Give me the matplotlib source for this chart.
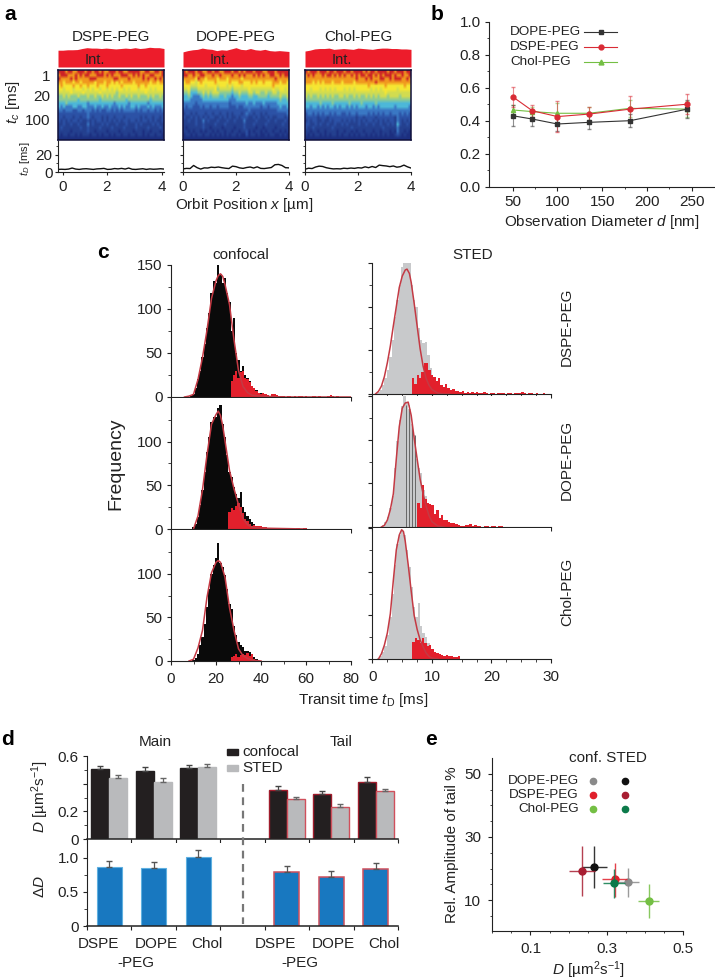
import numpy as np
import matplotlib
matplotlib.use('Agg')
import matplotlib.pyplot as plt
from matplotlib.colors import ListedColormap
from matplotlib.lines import Line2D
from matplotlib.patches import Rectangle
from matplotlib.ticker import FixedLocator

plt.rcParams['font.family'] = ['Liberation Sans', 'DejaVu Sans']
plt.rcParams['mathtext.fontset'] = 'custom'
plt.rcParams['mathtext.rm'] = 'Liberation Sans'
plt.rcParams['mathtext.it'] = 'Liberation Sans:italic'
plt.rcParams['font.size'] = 11
plt.rcParams['text.color'] = '#222222'
plt.rcParams['axes.edgecolor'] = '#222222'
plt.rcParams['xtick.color'] = '#222222'
plt.rcParams['ytick.color'] = '#222222'

W, H = 715, 980

# panel a, colour level per row (top to bottom) and orbit position
heat_colors = ['#1c2f80', '#24408f', '#2c52a6', '#3a78c4', '#4db8d8',
               '#8ccb94', '#d2dc50', '#f6e632', '#f0981e', '#cc2226']
heat_dspe = [
    "99989988999899899898899989988999998899889989",
    "89998889898998889998989888999889898988998889",
    "98888989888889998888888998888988888989889898",
    "88788878878888878887887878788887888888788788",
    "78777787787787778777877777877777787787777777",
    "77677767776767677677676767767677767777676777",
    "66666766667666666766666656666666666676666666",
    "55656555655565565565656556556565565556565565",
    "55555555455555555455555555554555555555455555",
    "44454444444434444444444344444344444443444444",
    "43433344334433343343343334343344343334343334",
    "33233322332333232322332323233333232332332323",
    "22222222222232222222222222222222222222222222",
    "22122212212232122212122122212222221212212212",
    "21212122121121212212121212122122121221212112",
    "11211211211131211121211121112111212111121211",
    "12111111121121111211112111121111211112111121",
    "11111011111121101111011110111110111011011101",
    "10110110101110110101101011011011011010110110",
    "00000000000000000000000000000000000000000000",
]
heat_dope = [
    "98999899889989988999899898999899988999899999",
    "99889889988898898888988989888989898899889899",
    "88888798878888788878888878888888888888988888",
    "78877678777778777778777887778787787778887887",
    "77766677767777677767677767777777777778777777",
    "66755566666667566666566666676666666667667767",
    "55644455656566655555455655566566556556656666",
    "44543334545455544544344544455445555455556556",
    "44433333444444444443334444444444444444445445",
    "33333233333333333332333333433433343333344444",
    "32332223233233233332223223333333233233334334",
    "22222222222222222222222222232222222222233333",
    "12212122212212212212122212322122121222222223",
    "21121212121221121212112122211212112121122212",
    "11211211312111211121121113111121111211211121",
    "11111211211112111211111112111211112111111211",
    "10111111211011110111101112111101101111011111",
    "11010110101101011011011011201011010110110101",
    "01101011011010101010110100201101001011001010",
    "00000000000000000000000000000000000000000000",
]
heat_chol = [
    "98999899989989998998999989899899998998999899",
    "89898889899898989889898998998989899989889889",
    "88888888888888888888898889898889988989998898",
    "88878787888788878888788888888988888888888888",
    "77777777777777777777777777877777787777777877",
    "77677767676767776767677777767676777777677777",
    "66666666666666666666666666666666676666666666",
    "65655656565655665655656556565656665666656666",
    "55555555555555555555555555555555555555555555",
    "44444454444544444454444544444544444444444444",
    "44344343434434344343434443443434444443444443",
    "33333333333333333333333333333333333333333333",
    "23323232332323322323323333232323233233323232",
    "22222122212222222222212212222122222221322222",
    "12122112112122212121212121221212121221321212",
    "22112121121121121211112112112112112121421121",
    "21121111111211111112111111111111211111311111",
    "11011011011110110110101101110110111010311010",
    "10101101010110101101010110101010101001210100",
    "00000000000000000000000000000000000000000000",
]
heat_names = ['DSPE-PEG', 'DOPE-PEG', 'Chol-PEG']
heat_rows = [heat_dspe, heat_dope, heat_chol]
heat_ticks = [[0.18, 1.84, 3.93], [0, 2, 4], [0, 2, 4]]
int_dspe = [0.80, 0.80, 0.82, 0.82, 0.83, 0.88, 0.92, 0.90, 0.90, 0.88, 0.90, 0.88, 0.86, 0.88, 0.90, 0.88, 0.92, 0.88, 0.90, 0.94, 0.92, 0.92, 0.88]
int_dope = [0.72, 0.78, 0.82, 0.84, 0.90, 0.86, 0.84, 0.78, 0.82, 0.80, 0.86, 0.92, 0.84, 0.82, 0.88, 0.82, 0.80, 0.84, 0.78, 0.76, 0.78, 0.76, 0.74]
int_chol = [0.76, 0.80, 0.86, 0.88, 0.88, 0.90, 0.84, 0.86, 0.88, 0.86, 0.84, 0.90, 0.88, 0.86, 0.84, 0.88, 0.90, 0.90, 0.88, 0.88, 0.86, 0.86, 0.84]
td_dspe = [3.0, 3.2, 3.0, 3.4, 4.6, 3.4, 3.0, 3.6, 3.8, 3.4, 3.0, 3.6, 3.8, 4.2, 3.0, 3.2, 4.0, 3.6, 4.2, 3.4, 4.6, 3.2, 3.0, 3.4, 3.8, 3.0, 3.6, 3.2, 3.4, 3.8, 3.4]
td_dope = [3.6, 4.2, 4.0, 7.6, 5.0, 3.4, 4.8, 4.6, 5.6, 5.2, 5.8, 5.0, 4.4, 4.0, 6.8, 6.2, 4.8, 4.2, 5.2, 5.8, 4.6, 6.0, 4.2, 4.0, 4.6, 5.2, 8.4, 8.8, 7.6, 5.0, 4.8]
td_chol = [3.2, 4.4, 4.0, 5.8, 6.8, 6.4, 5.0, 4.2, 3.6, 3.8, 3.6, 4.4, 4.0, 4.6, 4.2, 5.0, 4.6, 6.0, 5.0, 6.4, 5.2, 8.0, 7.4, 7.0, 6.2, 7.0, 5.6, 6.2, 8.0, 6.0, 4.6]

# panel b
diam = [50, 72, 100, 135, 181, 245]
b_dope = [0.43, 0.41, 0.38, 0.39, 0.40, 0.47]
b_dope_err = [0.063, 0.04, 0.045, 0.04, 0.04, 0.055]
b_dspe = [0.545, 0.46, 0.425, 0.44, 0.47, 0.50]
b_dspe_err = [0.06, 0.037, 0.095, 0.04, 0.08, 0.062]
b_chol = [0.465, 0.455, 0.445, 0.445, 0.475, 0.47]
b_chol_err = [0.03, 0.03, 0.065, 0.038, 0.05, 0.05]

# panel c, bar heights from a first bin centre with fixed bin width
conf_black_start = 9
conf_dspe_black = [1, 3, 10, 20, 30, 45, 60, 78, 95, 118, 132, 130, 150, 140, 130, 135, 118, 108, 75, 90, 50, 42, 30, 35, 25, 22, 18, 12, 10, 8, 5, 4, 2]
conf_dope_black = [0, 2, 6, 14, 28, 45, 65, 88, 105, 122, 128, 128, 138, 142, 120, 105, 85, 65, 60, 48, 40, 35, 42, 25, 20, 15, 12, 8, 6, 4, 2]
conf_chol_black = [0, 1, 3, 8, 18, 28, 42, 62, 82, 100, 110, 118, 135, 112, 108, 98, 82, 65, 60, 40, 30, 22, 18, 16, 12, 12, 10, 8, 5, 2]
conf_dspe_red_start = 27
conf_dspe_red = [18, 25, 30, 22, 28, 30, 22, 20, 17, 12, 10, 7, 5, 3, 4, 3, 2, 1, 3, 3, 2, 1, 1, 1, 0, 1, 1, 0, 1, 0, 1, 1, 0, 1, 0, 0, 1, 1, 0, 1, 0, 0, 0, 1, 2, 1, 0, 1]
conf_dope_red_start = 26
conf_dope_red = [20, 24, 22, 26, 30, 25, 18, 12, 9, 6, 4, 5, 3, 3, 4, 2, 2, 1, 1, 1, 0, 1, 1, 0, 0, 1, 1, 1, 0, 0, 1, 1, 0, 1, 1]
conf_chol_red_start = 27
conf_chol_red = [5, 6, 8, 5, 7, 8, 7, 9, 6, 8, 2]
conf_dspe_fit_x = [6, 8, 10, 12, 14, 16, 18, 20, 21, 22, 23, 24, 26, 28, 30, 32, 34, 36, 40, 50, 80]
conf_dspe_fit = [0, 1, 3, 20, 45, 76, 112, 132, 138, 140, 137, 128, 105, 65, 30, 12, 5, 2, 1, 0, 0]
conf_dope_fit_x = [10, 12, 14, 16, 18, 20, 21, 22, 23, 24, 26, 28, 30, 32, 34, 36, 40, 60]
conf_dope_fit = [0, 15, 45, 85, 120, 131, 135, 130, 118, 101, 67, 46, 28, 12, 5, 2, 1, 0]
conf_chol_fit_x = [8, 10, 12, 14, 16, 18, 20, 21, 22, 24, 26, 28, 30, 32, 34, 36, 40]
conf_chol_fit = [0, 2, 15, 35, 73, 101, 113, 115, 113, 96, 61, 35, 14, 6, 3, 1, 0]

sted_step = 0.4
sted_grey_start = 1.0
sted_dspe_grey = [2, 5, 10, 18, 28, 42, 62, 88, 108, 125, 145, 150, 152, 150, 125, 108, 100, 75, 62, 58, 60, 45, 30, 20, 15, 8, 5]
sted_dope_grey = [0, 0, 2, 6, 12, 22, 36, 68, 98, 122, 138, 150, 142, 135, 118, 105, 78, 68, 62, 42, 35, 25, 18, 10, 6]
sted_chol_grey = [1, 3, 8, 15, 28, 48, 75, 108, 132, 142, 148, 142, 125, 105, 82, 60, 48, 64, 38, 30, 25, 18, 12, 6]
sted_dspe_red_start = 6.8
sted_dspe_red = [18, 12, 22, 18, 25, 35, 36, 28, 22, 20, 15, 18, 10, 8, 12, 7, 5, 6, 4, 3, 2, 3, 1, 2, 1, 2, 1, 2, 1, 1, 2, 1, 0, 1, 1, 0, 1, 1, 1, 0, 1, 1, 0, 1, 1, 1, 2, 1, 0, 1, 1, 0, 1, 0, 0, 1]
sted_dope_red_start = 7.7
sted_dope_red = [28, 22, 48, 32, 28, 26, 25, 15, 20, 10, 14, 8, 8, 6, 5, 5, 4, 2, 1, 1, 2, 2, 3, 1, 2, 1, 1, 0, 1, 1, 0, 1, 1, 0, 1, 1]
sted_chol_red_start = 6.9
sted_chol_red = [20, 24, 22, 18, 24, 18, 15, 16, 12, 8, 7, 6, 5, 4, 5, 3, 4, 2, 2, 3]
sted_dspe_fit_x = [0.5, 1, 1.5, 2, 2.5, 3, 3.5, 4, 4.5, 5, 5.5, 5.8, 6.2, 6.5, 7, 7.5, 8, 8.5, 9, 9.5, 10, 11, 12, 13]
sted_dspe_fit = [0, 3, 9, 20, 36, 55, 78, 100, 122, 135, 142, 143, 138, 128, 104, 78, 52, 32, 18, 10, 5, 1, 0, 0]
sted_dope_fit_x = [1.5, 2, 2.5, 3, 3.5, 4, 4.5, 5, 5.5, 6, 6.5, 7, 7.5, 8, 8.5, 9, 9.5, 10, 11, 12]
sted_dope_fit = [0, 2, 8, 20, 38, 78, 115, 136, 142, 143, 128, 102, 78, 55, 38, 24, 13, 6, 1, 0]
sted_chol_fit_x = [1, 1.5, 2, 2.5, 3, 3.5, 4, 4.5, 4.9, 5.2, 5.5, 6, 6.5, 7, 7.5, 8, 8.5, 9, 9.5, 10, 11]
sted_chol_fit = [0, 6, 16, 30, 52, 90, 125, 142, 148, 146, 135, 108, 78, 50, 34, 22, 14, 7, 3, 1, 0]
sted_dope_dark_x = [5.7, 6.2, 6.7, 7.2]
sted_dope_dark_y = [140, 140, 118, 105]
row_names = ['DSPE-PEG', 'DOPE-PEG', 'Chol-PEG']

# panel d
d_groups_main = [0.5, 1.5, 2.5]
d_groups_tail = [4.5, 5.5, 6.5]
main_conf = [0.508, 0.494, 0.513]
main_conf_err = [0.022, 0.024, 0.024]
main_sted = [0.441, 0.414, 0.518]
main_sted_err = [0.019, 0.025, 0.024]
tail_conf = [0.357, 0.323, 0.41]
tail_conf_err = [0.024, 0.024, 0.036]
tail_sted = [0.287, 0.234, 0.347]
tail_sted_err = [0.014, 0.016, 0.012]
main_delta = [0.869, 0.854, 1.015]
main_delta_err = [0.078, 0.088, 0.095]
tail_delta = [0.796, 0.714, 0.83]
tail_delta_err = [0.087, 0.097, 0.097]

# panel e, D and amplitude with error limits
e_names = ['DOPE-PEG', 'DSPE-PEG', 'Chol-PEG']
e_conf_colors = ['#8a8a8a', '#e0202c', '#74bf44']
e_sted_colors = ['#111111', '#a81e32', '#0c7a4a']
e_conf_d = [0.355, 0.321, 0.41]
e_conf_dlo = [0.322, 0.288, 0.383]
e_conf_dhi = [0.385, 0.354, 0.436]
e_conf_a = [15.7, 16.6, 9.6]
e_conf_alo = [11.0, 11.0, 4.2]
e_conf_ahi = [20.3, 21.9, 15.1]
e_sted_d = [0.266, 0.234, 0.32]
e_sted_dlo = [0.234, 0.2, 0.29]
e_sted_dhi = [0.30, 0.27, 0.349]
e_sted_a = [20.4, 19.2, 15.4]
e_sted_alo = [13.7, 11.3, 10.6]
e_sted_ahi = [27.0, 27.2, 20.0]

fig = plt.figure(figsize=(W / 100, H / 100), dpi=100)


def px_axes(left, top, right, bottom):
    return fig.add_axes([left / W, 1 - bottom / H, (right - left) / W, (bottom - top) / H])


def px_text(x, y, s, **kw):
    kw.setdefault('ha', 'center')
    kw.setdefault('va', 'center')
    return fig.text(x / W, 1 - y / H, s, **kw)


def clean(ax):
    ax.spines['top'].set_visible(False)
    ax.spines['right'].set_visible(False)


for s, x, y in [('a', 10, 14), ('b', 437, 14), ('c', 103, 252), ('d', 7, 739), ('e', 431, 739)]:
    px_text(x, y, s, fontsize=15, fontweight='bold', color='black')

# a
heat_cmap = ListedColormap(heat_colors)
heat_left = [58, 183, 305]
int_data = [int_dspe, int_dope, int_chol]
td_data = [td_dspe, td_dope, td_chol]
for i, left in enumerate(heat_left):
    right = left + 106
    px_text(left + 53, 37, heat_names[i], fontsize=11)

    ax = px_axes(left, 46, right, 67)
    ax.fill_between(np.linspace(0, 4, len(int_data[i])), 0, int_data[i], color='#ed1c2b', lw=0)
    ax.set_xlim(0, 4)
    ax.set_ylim(0, 1)
    ax.axis('off')
    ax.text(0.35, 0.33, 'Int.', transform=ax.transAxes, ha='center', va='center', fontsize=10.5)

    ax = px_axes(left, 70, right, 140)
    grid = np.array([[int(c) for c in row[:44].ljust(44, row[-1])] for row in heat_rows[i]])
    ax.imshow(grid, cmap=heat_cmap, vmin=-0.5, vmax=9.5, aspect='auto', interpolation='bilinear')
    ax.set_xticks([])
    ax.set_yticks([])
    for sp in ax.spines.values():
        sp.set_linewidth(1.1)
        sp.set_color('#10103a')

    ax = px_axes(left, 141, right, 172)
    ax.plot(np.linspace(0, 4, len(td_data[i])), td_data[i], color='#111111', lw=1)
    ax.set_xlim(0, 4)
    ax.set_ylim(0, 36)
    clean(ax)
    ax.set_xticks(heat_ticks[i])
    ax.set_xticklabels(['0', '2', '4'])
    ax.set_yticks([0, 20])
    ax.yaxis.set_minor_locator(FixedLocator([10, 30]))
    ax.tick_params(axis='x', length=2, pad=4, labelsize=11)
    ax.tick_params(axis='y', length=2, pad=2, labelsize=11, labelleft=(i == 0))
    ax.tick_params(axis='y', which='minor', length=1.5)

for s, y, x in [('1', 77, 50), ('20', 97, 50), ('100', 121, 50)]:
    px_text(x, y, s, ha='right', fontsize=11)
px_text(13, 102, '$t_c$ [ms]', rotation=90, fontsize=11)
px_text(25, 159, '$t_D$ [ms]', rotation=90, fontsize=8)
px_text(244, 205, 'Orbit Position $x$ [\u00b5m]', fontsize=11)

# b
ax = px_axes(489, 21.7, 715, 186.7)
series_b = [(b_chol, b_chol_err, '#74bf44', '^', 3), (b_dope, b_dope_err, '#333333', 's', 3), (b_dspe, b_dspe_err, '#d92b35', 'o', 3.5)]
for vals, err, col, mk, ms in series_b:
    ax.plot(diam, vals, color=col, lw=0.8, marker=mk, ms=ms, zorder=3)
    ax.errorbar(diam, vals, yerr=err, fmt='none', ecolor=col, alpha=0.55, elinewidth=0.8, capsize=1.5, zorder=2)
ax.set_xlim(23.5, 276)
ax.set_ylim(0, 1)
clean(ax)
ax.set_xticks([50, 100, 150, 200, 250])
ax.set_xticks([75, 125, 175, 225], minor=True)
ax.set_yticks([0, 0.2, 0.4, 0.6, 0.8, 1.0])
ax.set_yticks([0.1, 0.3, 0.5, 0.7, 0.9], minor=True)
ax.tick_params(which='major', length=3, labelsize=11, pad=3)
ax.tick_params(which='minor', length=1.5)
px_text(602, 222, 'Observation Diameter $d$ [nm]', fontsize=11)
for name, y, col, mk in [('DOPE-PEG', 32, '#333333', 's'), ('DSPE-PEG', 47, '#d92b35', 'o'), ('Chol-PEG', 62, '#74bf44', '^')]:
    px_text(510, y, name, ha='left', fontsize=9.7)
    fig.add_artist(Line2D([584 / W, 617 / W], [1 - y / H] * 2, color=col, lw=0.8, marker=None))
    fig.add_artist(Line2D([600.5 / W], [1 - y / H], color=col, marker=mk, ms=3.5, lw=0))

# c
conf_rows = [(265, 397), (398, 529), (530, 661)]
sted_rows = [(263, 394), (396, 527), (528, 659)]
conf_black = [conf_dspe_black, conf_dope_black, conf_chol_black]
conf_red = [conf_dspe_red, conf_dope_red, conf_chol_red]
conf_red_start = [conf_dspe_red_start, conf_dope_red_start, conf_chol_red_start]
conf_fit = [(conf_dspe_fit_x, conf_dspe_fit), (conf_dope_fit_x, conf_dope_fit), (conf_chol_fit_x, conf_chol_fit)]
sted_grey = [sted_dspe_grey, sted_dope_grey, sted_chol_grey]
sted_red = [sted_dspe_red, sted_dope_red, sted_chol_red]
sted_red_start = [sted_dspe_red_start, sted_dope_red_start, sted_chol_red_start]
sted_fit = [(sted_dspe_fit_x, sted_dspe_fit), (sted_dope_fit_x, sted_dope_fit), (sted_chol_fit_x, sted_chol_fit)]

for i in range(3):
    # confocal column
    ax = px_axes(171, conf_rows[i][0], 351, conf_rows[i][1])
    ax.bar(conf_black_start + np.arange(len(conf_black[i])), conf_black[i], width=1.0, color='#0a0a0a', lw=0, antialiased=False)
    ax.bar(conf_red_start[i] + np.arange(len(conf_red[i])), conf_red[i], width=1.0, color='#e2202c', lw=0, antialiased=False)
    ax.plot(conf_fit[i][0], conf_fit[i][1], color='#c43a44', lw=1.1)
    ax.set_xlim(0, 80)
    ax.set_ylim(0, 150)
    clean(ax)
    ax.set_xticks([0, 20, 40, 60, 80])
    ax.set_xticks([10, 30, 50, 70], minor=True)
    ax.set_yticks([0, 50, 100, 150] if i == 0 else [0, 50, 100])
    ax.set_yticks([25, 75, 125], minor=True)
    ax.tick_params(which='major', length=3, labelsize=11, pad=3)
    ax.tick_params(which='minor', length=2)
    ax.tick_params(axis='x', labelbottom=(i == 2), pad=5)

    # STED column
    ax = px_axes(372.5, sted_rows[i][0], 551, sted_rows[i][1])
    ax.bar(sted_grey_start + sted_step * np.arange(len(sted_grey[i])), sted_grey[i], width=sted_step, color='#c8c9cb', lw=0, antialiased=False)
    if i == 1:
        ax.vlines(sted_dope_dark_x, 0, sted_dope_dark_y, color='#666666', lw=0.7)
    ax.bar(sted_red_start[i] + sted_step * np.arange(len(sted_red[i])), sted_red[i], width=sted_step, color='#e2202c', lw=0, antialiased=False)
    ax.plot(sted_fit[i][0], sted_fit[i][1], color='#c43a44', lw=1.1)
    ax.set_xlim(0, 30)
    ax.set_ylim(0, 150)
    clean(ax)
    ax.set_xticks([0, 10, 20, 30])
    ax.set_xticks(np.arange(0, 30.1, 2.5), minor=True)
    ax.set_yticks([0, 50, 100, 150])
    ax.set_yticks([25, 75, 125], minor=True)
    ax.tick_params(which='major', length=3, labelsize=11, labelleft=False, pad=5)
    ax.tick_params(which='minor', length=2)
    ax.tick_params(axis='x', labelbottom=(i == 2))
    px_text(567, (sted_rows[i][0] + sted_rows[i][1]) / 2 - 2, row_names[i], rotation=90, fontsize=11)

px_text(241, 255, 'confocal', fontsize=11)
px_text(473, 255, 'STED', fontsize=11)
px_text(116, 464, 'Frequency', rotation=90, fontsize=14)
px_text(363, 700, 'Transit time $t_{\\mathrm{D}}$ [ms]', fontsize=11)

# d
ax = px_axes(87, 756, 398, 839)
w = 0.405
for groups, conf, conf_e, sted, sted_e, edge1, edge2 in [
        (d_groups_main, main_conf, main_conf_err, main_sted, main_sted_err, '#231f20', '#b9babc'),
        (d_groups_tail, tail_conf, tail_conf_err, tail_sted, tail_sted_err, '#a01c2c', '#d0505c')]:
    g = np.array(groups)
    ax.bar(g - w / 2, conf, width=w, color='#231f20', edgecolor=edge1, lw=1,
           yerr=[np.zeros(3), conf_e], ecolor='#444444', error_kw=dict(lw=0.9, capsize=2))
    ax.bar(g + w / 2, sted, width=w, color='#b9babc', edgecolor=edge2, lw=1,
           yerr=[np.zeros(3), sted_e], ecolor='#666666', error_kw=dict(lw=0.9, capsize=2))
ax.set_xlim(0, 7)
ax.set_ylim(0, 0.6)
clean(ax)
ax.set_xticks(range(8))
ax.set_xticklabels([])
ax.set_yticks([0, 0.2, 0.4, 0.6])
ax.set_yticklabels(['0', '0.2', '', '0.6'])
ax.set_yticks([0.1, 0.3, 0.5], minor=True)
ax.tick_params(which='major', length=3, labelsize=11, pad=3)
ax.tick_params(which='minor', length=2)
ax.spines['bottom'].set_linewidth(1.1)

ax = px_axes(87, 843, 398, 926)
ax.bar(d_groups_main, main_delta, width=0.56, color='#1878c0', edgecolor='#5fb0e0', lw=0.8,
       yerr=[np.zeros(3), main_delta_err], ecolor='#555555', error_kw=dict(lw=0.9, capsize=2))
ax.bar(d_groups_tail, tail_delta, width=0.56, color='#1878c0', edgecolor='#d0505c', lw=1.1,
       yerr=[np.zeros(3), tail_delta_err], ecolor='#555555', error_kw=dict(lw=0.9, capsize=2))
ax.set_xlim(0, 7)
ax.set_ylim(0, 1.215)
clean(ax)
ax.set_xticks(range(8))
ax.set_xticklabels([])
ax.set_yticks([0, 0.5, 1.0])
ax.set_yticklabels(['0', '0.5', '1.0'])
ax.set_yticks([0.25, 0.75], minor=True)
ax.tick_params(which='major', length=3, labelsize=11, pad=3)
ax.tick_params(which='minor', length=2)
ax.spines['bottom'].set_linewidth(1.1)

fig.add_artist(Line2D([243 / W, 243 / W], [1 - 784 / H, 1 - 924 / H], color='#777777', lw=1.6, ls=(0, (3.5, 2.5))))
px_text(155, 742, 'Main', fontsize=11)
px_text(341, 742, 'Tail', fontsize=11)
px_text(40, 797, '$D$ [\u00b5m$^2$s$^{-1}$]', rotation=90, fontsize=11)
px_text(40, 887, '$\\Delta D$', rotation=90, fontsize=11)
for y, col, name in [(752, '#231f20', 'confocal'), (768, '#b9babc', 'STED')]:
    fig.add_artist(Rectangle((227 / W, 1 - (y + 3) / H), 11 / W, 6 / H, color=col, transform=fig.transFigure))
    px_text(242, y, name, ha='left', fontsize=11)
for x, s in [(98, 'DSPE'), (156, 'DOPE'), (207, 'Chol'), (275, 'DSPE'), (333, 'DOPE'), (384, 'Chol')]:
    px_text(x, 944, s, fontsize=11)
px_text(136, 963, '-PEG', fontsize=11)
px_text(300, 963, '-PEG', fontsize=11)

# e
ax = px_axes(492.3, 758, 683, 930.7)
for j in range(3):
    for d, dlo, dhi, a, alo, ahi, col in [
            (e_conf_d, e_conf_dlo, e_conf_dhi, e_conf_a, e_conf_alo, e_conf_ahi, e_conf_colors),
            (e_sted_d, e_sted_dlo, e_sted_dhi, e_sted_a, e_sted_alo, e_sted_ahi, e_sted_colors)]:
        ax.hlines(a[j], dlo[j], dhi[j], color=col[j], lw=1, alpha=0.85)
        ax.vlines(d[j], alo[j], ahi[j], color=col[j], lw=1, alpha=0.85)
        ax.plot(d[j], a[j], 'o', color=col[j], ms=5)
ax.set_xlim(0, 0.5)
ax.set_ylim(0.3, 55)
clean(ax)
ax.set_xticks([0.1, 0.3, 0.5])
ax.set_xticks([0, 0.05, 0.15, 0.2, 0.25, 0.35, 0.4, 0.45], minor=True)
ax.set_yticks([10, 30, 50])
ax.set_yticks([5, 15, 20, 25, 35, 40, 45], minor=True)
ax.tick_params(which='major', length=3, labelsize=11, pad=5)
ax.tick_params(which='minor', length=1.5)
px_text(608, 758, 'conf. STED', fontsize=11)
for j, y in enumerate([781, 795, 809]):
    px_text(579, y, e_names[j], ha='right', fontsize=9.7)
    fig.add_artist(Line2D([592.5 / W], [1 - y / H], color=e_conf_colors[j], marker='o', ms=4.5, lw=0))
    fig.add_artist(Line2D([625 / W], [1 - y / H], color=e_sted_colors[j], marker='o', ms=4.5, lw=0))
px_text(452, 845, 'Rel. Amplitude of tail %', rotation=90, fontsize=11)
px_text(588, 970, '$D$ [\u00b5m$^2$s$^{-1}$]', fontsize=11)

fig.savefig('out.png', dpi=100)
